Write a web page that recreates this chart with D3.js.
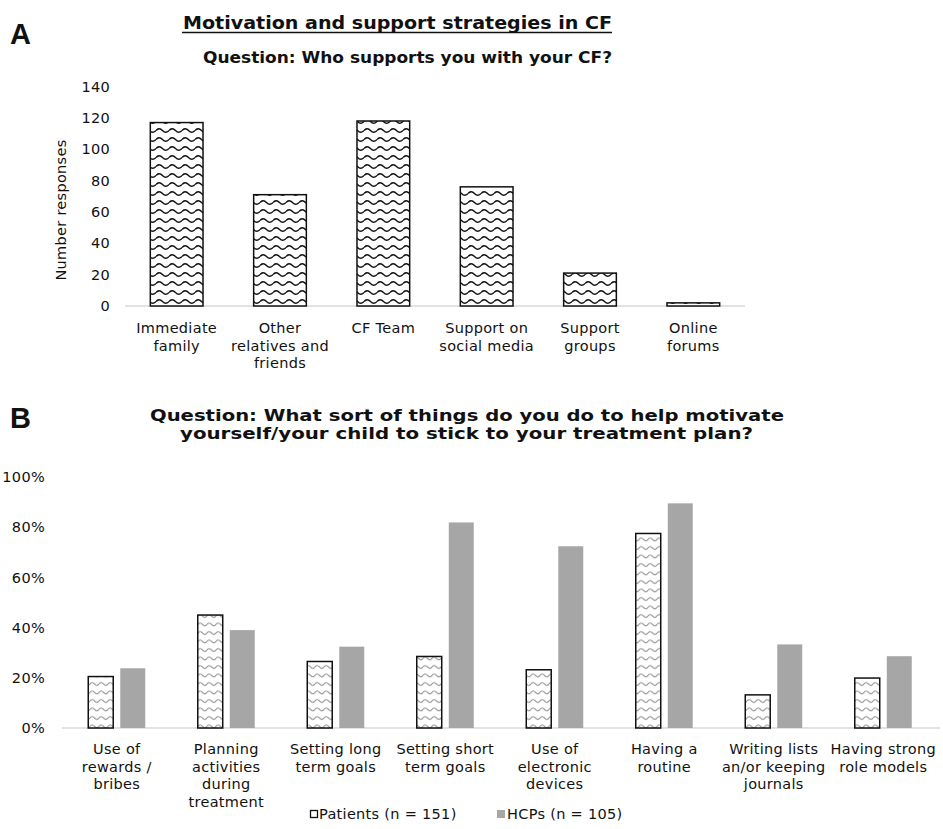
<!DOCTYPE html>
<html>
<head>
<meta charset="utf-8">
<script src="https://cdn.jsdelivr.net/npm/d3@7"></script>
<style>
  body { margin: 0; background: #fff; }
  text { font-family: "DejaVu Sans", Verdana, sans-serif; fill: #111; }
  .title { font-weight: bold; }
  .panel { font-family: "Liberation Sans", Arial, sans-serif; font-weight: bold; }
  .lbl { font-size: 14.5px; letter-spacing: 0.3px; }
</style>
</head>
<body>
<div id="chart"></div>
<script>
/***********************************************************************/
//data - panel A
var supportCats = ["Immediate family", "Other relatives and friends", "CF Team",
  "Support on social media", "Support groups", "Online forums"];
var supportLabels = [["Immediate", "family"], ["Other", "relatives and", "friends"], ["CF Team"],
  ["Support on", "social media"], ["Support", "groups"], ["Online", "forums"]];
var supportValues = [117, 71, 118, 76, 21, 2];
var supportTicks = [0, 20, 40, 60, 80, 100, 120, 140];

//data - panel B
var motivCats = ["rewards", "planning", "long", "short", "electronic", "routine", "lists", "models"];
var motivLabels = [["Use of", "rewards /", "bribes"], ["Planning", "activities", "during", "treatment"],
  ["Setting long", "term goals"], ["Setting short", "term goals"], ["Use of", "electronic", "devices"],
  ["Having a", "routine"], ["Writing lists", "an/or keeping", "journals"], ["Having strong", "role models"]];
var patientsPct = [0.205, 0.450, 0.265, 0.285, 0.232, 0.775, 0.132, 0.199];
var hcpPct = [0.238, 0.390, 0.324, 0.819, 0.724, 0.895, 0.333, 0.286];
var motivTicks = [0, 0.2, 0.4, 0.6, 0.8, 1.0];
var seriesNames = ["Patients (n = 151)", "HCPs (n = 105)"];

/***********************************************************************/
var svgWidth = 943;
var svgHeight = 829;

var svg = d3.select('#chart')
  .append('svg')
  .attr('width', svgWidth)
  .attr('height', svgHeight);

//patterns
var defs = svg.append('defs');
var pa = defs.append('pattern')
  .attr('id', 'waveDark')
  .attr('patternUnits', 'userSpaceOnUse')
  .attr('width', 13).attr('height', 9);
pa.append('rect').attr('width', 13).attr('height', 9).attr('fill', '#fff');
pa.append('path')
  .attr('d', 'M0,4.5 Q3.25,1 6.5,4.5 T13,4.5')
  .attr('fill', 'none').attr('stroke', '#111').attr('stroke-width', 1.4);

var pb = defs.append('pattern')
  .attr('id', 'waveLight')
  .attr('patternUnits', 'userSpaceOnUse')
  .attr('width', 9).attr('height', 8.5);
pb.append('rect').attr('width', 9).attr('height', 8.5).attr('fill', '#fff');
pb.append('path')
  .attr('d', 'M0,4 Q2.25,1.2 4.5,4 T9,4')
  .attr('fill', 'none').attr('stroke', '#8a8a8a').attr('stroke-width', 1.1);

/***********************************************************************/
//panel A
svg.append('text').attr('class', 'panel').attr('x', 10).attr('y', 44)
  .style('font-size', '29px').text('A');

svg.append('text').attr('class', 'title').attr('x', 183).attr('y', 29)
  .attr('textLength', 429).attr('lengthAdjust', 'spacingAndGlyphs')
  .style('font-size', '17px').text('Motivation and support strategies in CF');
svg.append('line').attr('x1', 182).attr('x2', 612).attr('y1', 32.5).attr('y2', 32.5)
  .attr('stroke', '#111').attr('stroke-width', 1.5);

svg.append('text').attr('class', 'title').attr('x', 203).attr('y', 63)
  .attr('textLength', 409).attr('lengthAdjust', 'spacingAndGlyphs')
  .style('font-size', '16.5px').text('Question: Who supports you with your CF?');

var xA = d3.scaleBand()
  .domain(supportCats)
  .range([125, 745])
  .paddingInner(0.49)
  .paddingOuter(0.245);

var yA = d3.scaleLinear()
  .domain([0, 140])
  .range([306, 86.5]);

var yAxisA = d3.axisLeft(yA).tickValues(supportTicks).tickSize(0).tickPadding(15);
var gA = svg.append('g').attr('transform', 'translate(125,0)').call(yAxisA);
gA.select('.domain').remove();
gA.selectAll('text').attr('class', 'lbl').style('font-family', '"DejaVu Sans", Verdana, sans-serif').attr('fill', '#111');

svg.append('line').attr('x1', 125).attr('x2', 745).attr('y1', yA(0)).attr('y2', yA(0))
  .attr('stroke', '#d9d9d9').attr('stroke-width', 1.5);

svg.selectAll('.barA')
  .data(supportValues)
  .enter()
  .append('rect')
  .attr('class', 'barA')
  .attr('x', (d, i) => xA(supportCats[i]))
  .attr('y', d => yA(d))
  .attr('width', xA.bandwidth())
  .attr('height', d => yA(0) - yA(d))
  .attr('fill', 'url(#waveDark)')
  .attr('stroke', '#111')
  .attr('stroke-width', 1.5);

supportLabels.forEach(function(lines, i) {
  var cx = xA(supportCats[i]) + xA.bandwidth() / 2;
  var t = svg.append('text')
    .attr('class', 'lbl')
    .attr('x', cx)
    .attr('y', 333)
    .attr('text-anchor', 'middle');
  lines.forEach(function(l, j) {
    t.append('tspan').attr('x', cx).attr('dy', j === 0 ? 0 : 17.5).text(l);
  });
});

svg.append('text')
  .attr('class', 'lbl')
  .attr('transform', 'translate(66,210) rotate(-90)')
  .attr('text-anchor', 'middle')
  .text('Number responses');

/***********************************************************************/
//panel B
svg.append('text').attr('class', 'panel').attr('x', 10).attr('y', 428)
  .style('font-size', '29px').text('B');

svg.append('text').attr('class', 'title').attr('x', 150).attr('y', 421)
  .attr('textLength', 634).attr('lengthAdjust', 'spacingAndGlyphs')
  .style('font-size', '15.5px').text('Question: What sort of things do you do to help motivate');
svg.append('text').attr('class', 'title').attr('x', 180).attr('y', 439)
  .attr('textLength', 573).attr('lengthAdjust', 'spacingAndGlyphs')
  .style('font-size', '15.5px').text('yourself/your child to stick to your treatment plan?');

var x0 = d3.scaleBand()
  .domain(motivCats)
  .range([62, 938]);

var x1 = d3.scaleBand()
  .domain([0, 1])
  .range([0, x0.bandwidth()])
  .paddingInner(0.22)
  .paddingOuter(0.82);

var yB = d3.scaleLinear()
  .domain([0, 1])
  .range([728, 477]);

var yAxisB = d3.axisLeft(yB).tickValues(motivTicks).tickFormat(d3.format('.0%')).tickSize(0).tickPadding(17);
var gB = svg.append('g').attr('transform', 'translate(62,0)').call(yAxisB);
gB.select('.domain').remove();
gB.selectAll('text').attr('class', 'lbl').style('font-family', '"DejaVu Sans", Verdana, sans-serif').attr('fill', '#111');

svg.append('line').attr('x1', 62).attr('x2', 940).attr('y1', yB(0)).attr('y2', yB(0))
  .attr('stroke', '#d9d9d9').attr('stroke-width', 1.5);

//HCP bars
svg.selectAll('.barH')
  .data(hcpPct)
  .enter()
  .append('rect')
  .attr('class', 'barH')
  .attr('x', (d, i) => x0(motivCats[i]) + x1(1))
  .attr('y', d => yB(d))
  .attr('width', x1.bandwidth())
  .attr('height', d => yB(0) - yB(d))
  .attr('fill', '#a6a6a6');

//patient bars
svg.selectAll('.barP')
  .data(patientsPct)
  .enter()
  .append('rect')
  .attr('class', 'barP')
  .attr('x', (d, i) => x0(motivCats[i]) + x1(0))
  .attr('y', d => yB(d))
  .attr('width', x1.bandwidth())
  .attr('height', d => yB(0) - yB(d))
  .attr('fill', 'url(#waveLight)')
  .attr('stroke', '#111')
  .attr('stroke-width', 1.5);

motivLabels.forEach(function(lines, i) {
  var cx = x0(motivCats[i]) + x0.bandwidth() / 2;
  var t = svg.append('text')
    .attr('class', 'lbl')
    .attr('x', cx)
    .attr('y', 754)
    .attr('text-anchor', 'middle');
  lines.forEach(function(l, j) {
    t.append('tspan').attr('x', cx).attr('dy', j === 0 ? 0 : 17.5).text(l);
  });
});

//legend
svg.append('rect').attr('x', 310.5).attr('y', 810.5).attr('width', 7).attr('height', 7)
  .attr('fill', '#fff').attr('stroke', '#111').attr('stroke-width', 1.3);
svg.append('text').attr('class', 'lbl').attr('x', 319).attr('y', 819).text(seriesNames[0]);
svg.append('rect').attr('x', 497).attr('y', 810).attr('width', 8).attr('height', 8)
  .attr('fill', '#a6a6a6');
svg.append('text').attr('class', 'lbl').attr('x', 507).attr('y', 819).text(seriesNames[1]);
</script>
</body>
</html>
